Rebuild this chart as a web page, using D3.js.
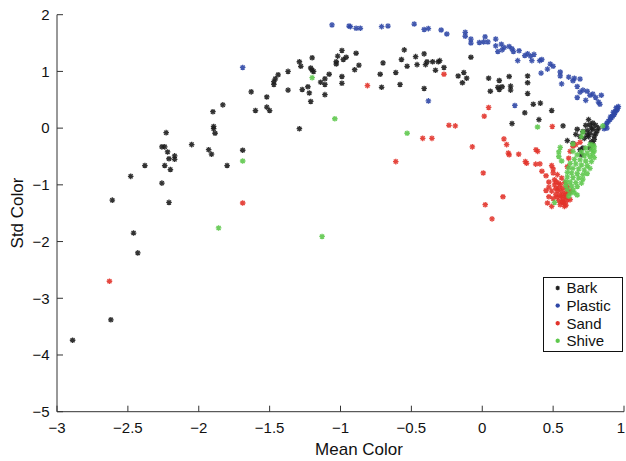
<!DOCTYPE html>
<meta charset="utf-8">
<html lang="en">
<head>
<title>Mean Color vs Std Color</title>
<script src="https://d3js.org/d3.v7.min.js"></script>
<style>
  html, body { margin: 0; padding: 0; background: #fff; }
  svg { display: block; font-family: "Liberation Sans", Arial, Helvetica, sans-serif; }
  .tick-label { font-size: 15px; fill: #111; }
  .axis-title { font-size: 17px; fill: #111; }
  .legend-text { font-size: 15px; fill: #111; }
</style>
</head>
<body>
<div id="chart"></div>
<script>
// tick values
var xTicks = [-3, -2.5, -2, -1.5, -1, -0.5, 0, 0.5, 1];
var yTicks = [-5, -4, -3, -2, -1, 0, 1, 2];

// class names and colours (drawn in this order)
var classes = ["Bark", "Plastic", "Sand", "Shive"];
var classColors = ["#1c1c1c", "#2f47a6", "#e2332a", "#5ec84c"];

// [mean colour, std colour]
var bark = [
  [-2.89,-3.74],[-2.62,-3.38],[-2.43,-2.20],[-2.46,-1.85],[-2.61,-1.27],[-2.48,-0.85],[-2.38,-0.66],
  [-2.26,-0.97],[-2.23,-0.08],[-2.26,-0.33],[-2.24,-0.33],[-2.22,-0.42],[-2.24,-0.66],[-2.21,-0.54],
  [-2.20,-0.73],[-2.17,-0.49],[-2.17,-0.55],[-2.21,-1.31],[-2.05,-0.29],[-1.93,-0.38],[-1.91,-0.46],
  [-1.80,-0.66],[-1.69,-0.39],[-1.90,0.29],[-1.83,0.41],[-1.895,0.03],[-1.895,-0.01],[-1.885,-0.09],
  [-1.63,0.64],[-1.60,0.31],[-1.52,0.55],[-1.52,0.37],[-1.50,0.31],[-1.47,0.77],[-1.47,0.82],
  [-1.46,0.87],[-1.44,0.94],[-1.37,1.00],[-1.37,0.67],[-1.29,1.17],[-1.28,1.09],[-1.27,0.68],
  [-1.23,0.73],[-1.22,0.62],[-1.21,0.47],[-1.29,-0.01],[-1.20,1.24],[-1.21,1.06],[-1.20,1.02],
  [-1.19,1.00],[-1.14,0.81],[-1.11,0.87],[-1.11,0.77],[-1.11,0.59],[-1.08,0.95],[-1.02,1.27],
  [-0.99,1.37],[-1.03,1.17],[-1.03,1.13],[-0.98,1.21],[-0.96,1.25],[-0.99,0.91],[-0.99,0.79],
  [-0.90,1.03],[-0.87,1.11],[-0.89,1.32],[-0.72,0.95],[-0.71,0.72],[-0.70,1.15],[-0.61,0.98],
  [-0.58,0.77],[-0.57,1.21],[-0.55,1.38],[-0.53,1.09],[-0.47,1.26],[-0.46,1.12],[-0.41,1.31],
  [-0.40,1.12],[-0.39,1.17],[-0.35,1.17],[-0.31,1.17],[-0.41,0.70],[-0.33,1.02],[-0.27,1.07],
  [-0.30,1.19],[-0.17,0.92],[-0.13,0.98],[-0.11,0.88],[-0.14,0.80],[-0.08,1.25],[0.045,0.88],
  [0.057,0.65],[0.12,0.84],[0.11,0.72],[0.12,0.68],[0.14,0.73],[0.19,0.91],[0.20,0.74],[0.20,0.67],
  [0.32,0.92],[0.32,0.80],[0.32,0.61],[0.36,0.42],[0.41,0.44],[0.30,0.27],[0.49,0.31],[0.21,0.08],
  [0.40,0.15],[0.57,0.04],[0.60,-0.22],
  [0.75,0.15],[0.78,0.09],[0.77,0.00],[0.76,-0.09],[0.74,-0.12],[0.72,-0.18],[0.75,-0.15],[0.78,-0.02],
  [0.71,-0.06],[0.69,-0.15],[0.67,-0.02],[0.66,-0.11],[0.64,-0.27],[0.77,-0.24],[0.78,-0.28],
  [0.76,-0.35],[0.71,-0.35],[0.69,-0.38],[0.70,-0.47],[0.82,0.00],[0.80,-0.10],[0.79,-0.20],[0.73,0.05],
  [0.80,0.05],[0.81,-0.05],[0.76,0.06],[0.74,-0.04],[0.79,-0.14]
];

var plastic = [
  [-1.69,1.07],[-1.06,1.82],[-0.94,1.80],[-0.93,1.79],[-0.89,1.76],[-0.86,1.76],[-0.71,1.79],
  [-0.665,1.80],[-0.48,1.835],[-0.41,1.74],[-0.38,1.755],[-0.29,1.73],[-0.25,1.66],[-0.12,1.69],
  [-0.12,1.62],[-0.08,1.57],[-0.08,1.50],[-0.02,1.51],[0.01,1.52],[0.04,1.52],[0.02,1.61],[0.095,1.57],
  [0.095,1.45],[0.135,1.48],[0.11,1.35],[0.14,1.38],[0.155,1.42],[0.19,1.44],[0.21,1.40],[0.22,1.35],
  [0.26,1.365],[0.25,1.19],[0.30,1.28],[0.32,1.31],[0.34,1.27],[0.35,1.19],[0.365,1.30],[0.405,1.19],
  [0.42,1.21],[0.415,0.97],[0.46,1.04],[0.48,1.13],[0.50,1.09],[0.55,0.99],[0.55,0.92],[0.56,0.78],
  [0.61,0.90],[0.64,0.835],[0.65,0.88],[0.69,0.865],[0.67,0.735],[0.69,0.635],[0.67,0.54],[0.71,0.67],
  [0.73,0.49],[0.74,0.65],[0.76,0.58],[0.78,0.60],[0.80,0.54],[0.84,0.58],[0.82,0.46],[0.83,0.42],
  [0.23,0.40],[-0.38,0.48],
  [0.96,0.38],[0.955,0.35],[0.95,0.32],[0.94,0.30],[0.935,0.27],[0.93,0.24],[0.92,0.21],[0.91,0.18],
  [0.90,0.15],[0.89,0.12],[0.88,0.09],[0.87,0.05],[0.865,0.02],[0.86,-0.01],[0.945,0.36],[0.925,0.28],
  [0.905,0.20],[0.88,0.00]
];

var sand = [
  [-2.63,-2.70],[-1.69,-1.32],[-0.81,0.75],[-0.27,0.95],[-0.61,-0.59],[-0.42,-0.18],[-0.355,-0.18],
  [-0.235,0.05],[-0.19,0.04],[-0.07,-0.33],[0.045,0.365],[0.014,0.21],[0.007,-0.79],[0.021,-1.35],
  [0.069,-1.60],[0.146,-1.21],[0.153,-0.19],[0.172,-0.29],[0.184,-0.44],[0.19,-0.47],[0.257,-0.46],
  [0.304,-0.59],[0.313,-0.62],[0.379,-0.38],[0.391,-0.41],[0.377,-0.635],[0.407,-0.63],[0.421,-0.76],
  [0.494,0.03],[0.69,-0.25],
  [0.45,-0.84],[0.47,-0.95],[0.45,-1.10],[0.47,-1.04],[0.46,-1.32],[0.49,-1.38],[0.50,-1.24],[0.51,-0.91],
  [0.53,-0.82],[0.50,-0.79],[0.54,-0.97],[0.56,-0.88],[0.57,-1.06],[0.58,-1.16],[0.59,-1.23],[0.57,-1.30],
  [0.55,-1.35],[0.58,-1.32],[0.61,-1.15],[0.62,-1.11],[0.52,-1.17],[0.54,-1.06],[0.56,-1.12],[0.52,-1.06],
  [0.50,-0.72],[0.49,-0.66],[0.60,-0.68],[0.61,-0.53],[0.62,-0.41],[0.64,-0.32],[0.66,-0.29],[0.60,-1.27],
  [0.53,-1.22],[0.55,-1.00],[0.58,-0.96],[0.60,-1.03],[0.56,-1.20],[0.54,-1.28],[0.59,-1.36],
  [0.52,-0.95],[0.53,-1.10],[0.55,-1.18],[0.57,-1.24],[0.59,-1.18],[0.60,-1.10],[0.56,-1.30],
  [0.58,-1.38],[0.62,-1.26],[0.51,-1.00],[0.49,-1.11],[0.47,-1.21]
];

var shive = [
  [-1.20,0.89],[-1.04,0.165],[-0.53,-0.09],[-1.13,-1.91],[-1.69,-0.58],[-1.86,-1.76],
  [0.39,0.02],[0.85,0.04],[0.71,-0.07],[0.55,-0.34],[0.54,-0.42],[0.54,-0.50],[0.56,-0.58],[0.64,-0.41],
  [0.51,-1.31],[0.67,-1.18],[0.70,-0.15],[0.64,-0.28],
  [0.76,-0.29],[0.78,-0.30],[0.79,-0.33],[0.73,-0.35],[0.77,-0.38],[0.79,-0.40],[0.70,-0.42],[0.74,-0.44],
  [0.78,-0.45],[0.67,-0.47],[0.72,-0.49],[0.76,-0.50],[0.79,-0.52],[0.65,-0.55],[0.69,-0.56],[0.73,-0.58],
  [0.77,-0.59],[0.62,-0.62],[0.66,-0.63],[0.70,-0.65],[0.74,-0.66],[0.61,-0.70],[0.64,-0.71],[0.68,-0.72],
  [0.72,-0.74],[0.76,-0.71],[0.60,-0.78],[0.63,-0.79],[0.67,-0.80],[0.71,-0.82],[0.74,-0.80],[0.60,-0.86],
  [0.64,-0.87],[0.68,-0.88],[0.71,-0.90],[0.59,-0.94],[0.62,-0.95],[0.66,-0.96],[0.70,-0.97],[0.59,-1.01],
  [0.63,-1.02],[0.67,-1.03],[0.60,-1.08],[0.64,-1.09],[0.62,-1.15],[0.65,-1.14],[0.61,-1.20]
];

var seriesData = [bark, plastic, sand, shive];

var width = 626, height = 461;

var svg = d3.select("#chart").append("svg")
    .attr("width", width)
    .attr("height", height);

var x = d3.scaleLinear().domain([-3, 1]).range([57, 624]);
var y = d3.scaleLinear().domain([-5, 2]).range([411.7, 14.7]);

function fmt(v) { return String(v).replace("-", "\u2212"); }

// axes (MATLAB style: left + bottom, ticks inside)
var axisColor = "#333";
var g = svg.append("g");
g.append("line").attr("x1", x(-3)).attr("x2", x(-3)).attr("y1", y(2)).attr("y2", y(-5))
  .attr("stroke", axisColor).attr("stroke-width", 1);
g.append("line").attr("x1", x(-3)).attr("x2", x(1)).attr("y1", y(-5)).attr("y2", y(-5))
  .attr("stroke", axisColor).attr("stroke-width", 1);

g.selectAll(".xt").data(xTicks).enter().append("line")
  .attr("x1", d => x(d)).attr("x2", d => x(d))
  .attr("y1", y(-5)).attr("y2", y(-5) - 6)
  .attr("stroke", axisColor);
g.selectAll(".xl").data(xTicks).enter().append("text")
  .attr("class", "tick-label")
  .attr("x", d => Math.min(x(d), 621)).attr("y", 433)
  .attr("text-anchor", "middle")
  .text(fmt);

g.selectAll(".yt").data(yTicks).enter().append("line")
  .attr("x1", x(-3)).attr("x2", x(-3) + 6)
  .attr("y1", d => y(d)).attr("y2", d => y(d))
  .attr("stroke", axisColor);
g.selectAll(".yl").data(yTicks).enter().append("text")
  .attr("class", "tick-label")
  .attr("x", 49.5).attr("y", d => y(d))
  .attr("dy", "0.35em")
  .attr("text-anchor", "end")
  .text(fmt);

svg.append("text").attr("class", "axis-title")
  .attr("x", 359).attr("y", 455)
  .attr("text-anchor", "middle")
  .text("Mean Color");
svg.append("text").attr("class", "axis-title")
  .attr("transform", "translate(23,213)rotate(-90)")
  .attr("text-anchor", "middle")
  .text("Std Color");

// asterisk marker like MATLAB '*'
function star(r) {
  var a = r * 0.72;
  return "M" + (-r) + ",0h" + (2 * r) + "M0," + (-r) + "v" + (2 * r) +
         "M" + (-a) + "," + (-a) + "l" + (2 * a) + "," + (2 * a) +
         "M" + (-a) + "," + a + "l" + (2 * a) + "," + (-2 * a);
}

var plot = svg.append("g");
seriesData.forEach(function (pts, i) {
  plot.append("g").selectAll("path").data(pts).enter().append("path")
    .attr("d", star(2.8))
    .attr("transform", d => "translate(" + x(d[0]) + "," + y(d[1]) + ")")
    .attr("fill", "none")
    .attr("stroke", classColors[i])
    .attr("stroke-width", 1.3)
    .attr("stroke-opacity", 0.9);
});

// legend
var leg = svg.append("g");
leg.append("rect")
  .attr("x", 543.5).attr("y", 277.5).attr("width", 79).attr("height", 74)
  .attr("fill", "#fff").attr("stroke", "#111").attr("stroke-width", 1);
classes.forEach(function (c, i) {
  var yy = 288 + i * 17.6;
  leg.append("path").attr("d", star(2.2))
    .attr("transform", "translate(557.7," + yy + ")")
    .attr("fill", "none").attr("stroke", classColors[i]).attr("stroke-width", 1.2);
  leg.append("text").attr("class", "legend-text")
    .attr("x", 566.5).attr("y", yy).attr("dy", "0.36em")
    .text(c);
});
</script>
</body>
</html>
